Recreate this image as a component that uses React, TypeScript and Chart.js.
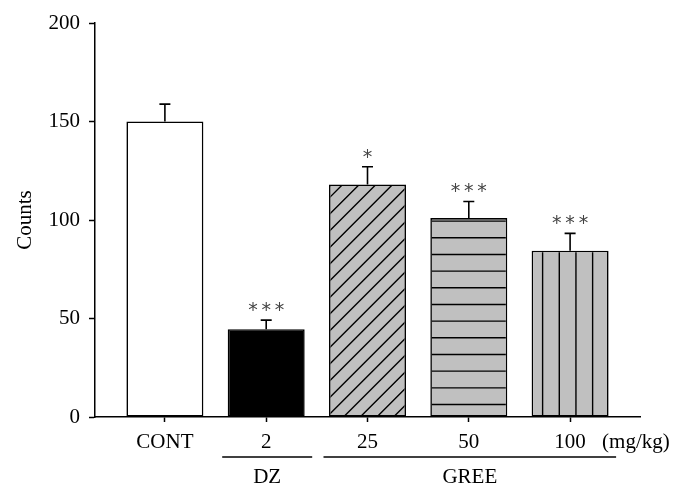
import React, { useEffect, useRef } from "react";
import { Chart, registerables } from "chart.js";

Chart.register(...registerables);

// ---- data ----
const categories = ["CONT", "2", "25", "50", "100"];
const means = [150, 44.6, 118, 101, 84.4];
const sems = [8.8, 4.6, 9, 8.4, 8.8];
const significance = ["", "***", "*", "***", "***"];
const fills = ["#ffffff", "#000000", "#c0c0c0", "#c0c0c0", "#c0c0c0"];
const hatches = ["none", "none", "diag", "horiz", "vert"];
const groupNames = ["DZ", "GREE"];
const groupFirst = [1, 2];
const groupLast = [1, 4];
const unitLabel = "(mg/kg)";
const yTicks = [0, 50, 100, 150, 200];

const SERIF = '"Liberation Serif", "Times New Roman", serif';

const overlay = {
  id: "overlay",
  afterDatasetsDraw(chart: any) {
    const ctx = chart.ctx;
    const yScale = chart.scales.y;
    const meta = chart.getDatasetMeta(0);
    meta.data.forEach((bar: any, i: number) => {
      const p = bar.getProps(["x", "y", "base", "width"], true);
      const cx = p.x;
      const top = p.y;
      const base = p.base;
      const w = p.width;
      const left = cx - w / 2;
      const right = cx + w / 2;
      const step = 16.67;
      const kind = hatches[i];
      if (kind !== "none") {
        ctx.save();
        ctx.beginPath();
        ctx.rect(left + 1.5, top + 1.5, w - 3, base - top - 1.5);
        ctx.clip();
        ctx.strokeStyle = "#000";
        ctx.lineWidth = 1.4;
        ctx.beginPath();
        const h = base - top;
        if (kind === "horiz") {
          for (let yy = base - 12; yy > top; yy -= step) {
            ctx.moveTo(left, yy);
            ctx.lineTo(right, yy);
          }
        } else if (kind === "vert") {
          for (let xx = left + 11; xx < right; xx += step) {
            ctx.moveTo(xx, top);
            ctx.lineTo(xx, base);
          }
        } else if (kind === "diag") {
          let s = left + 15 - step * Math.ceil(h / step + 1);
          for (; s < right; s += step) {
            ctx.moveTo(s, base);
            ctx.lineTo(s + h, top);
          }
        }
        ctx.stroke();
        ctx.restore();
      }
      // error bar (upper only)
      const eTop = yScale.getPixelForValue(means[i] + sems[i]);
      ctx.save();
      ctx.strokeStyle = "#000";
      ctx.lineWidth = 1.6;
      ctx.beginPath();
      ctx.moveTo(cx, top);
      ctx.lineTo(cx, eTop);
      ctx.moveTo(cx - 5.5, eTop);
      ctx.lineTo(cx + 5.5, eTop);
      ctx.stroke();
      // significance stars
      const n = significance[i].length;
      ctx.fillStyle = "#444";
      ctx.font = '19px "DejaVu Sans", sans-serif';
      ctx.textAlign = "center";
      ctx.textBaseline = "alphabetic";
      for (let j = 0; j < n; j++) {
        const sx = cx + (j - (n - 1) / 2) * 13.3;
        ctx.fillText("*", sx, eTop - 14 + 10);
      }
      ctx.restore();
    });
  },
  afterDraw(chart: any) {
    const ctx = chart.ctx;
    const xScale = chart.scales.x;
    ctx.save();
    ctx.strokeStyle = "#000";
    ctx.fillStyle = "#000";
    ctx.lineWidth = 1.5;
    ctx.font = "21px " + SERIF;
    ctx.textAlign = "center";
    ctx.textBaseline = "alphabetic";
    groupNames.forEach((name, g) => {
      const x1 = xScale.getPixelForValue(groupFirst[g]) - 44;
      const x2 = xScale.getPixelForValue(groupLast[g]) + 46;
      ctx.beginPath();
      ctx.moveTo(x1, 457);
      ctx.lineTo(x2, 457);
      ctx.stroke();
      ctx.fillText(name, (x1 + x2) / 2, 483);
    });
    ctx.textAlign = "left";
    ctx.fillText(unitLabel, xScale.getPixelForValue(categories.length - 1) + 32, 448);
    ctx.restore();
  },
};

export default function App() {
  const ref = useRef<HTMLCanvasElement>(null);
  useEffect(() => {
    document.body.style.margin = "0";
    const canvas = ref.current;
    if (!canvas) return;
    const chart = new Chart(canvas, {
      type: "bar",
      data: {
        datasets: [
          {
            data: categories.map((_, i) => ({ x: i, y: means[i] })) as any,
            backgroundColor: fills,
            borderColor: "#000",
            borderWidth: 1.6,
            borderSkipped: false,
            barPercentage: 0.76,
            categoryPercentage: 1,
          },
        ],
      },
      options: {
        animation: false,
        responsive: false,
        devicePixelRatio: 1,
        layout: { padding: { top: 23, right: 43, left: 0, bottom: 0 } },
        plugins: { legend: { display: false }, tooltip: { enabled: false } },
        scales: {
          x: {
            type: "linear",
            offset: false,
            min: -0.69,
            max: 4.69,
            afterBuildTicks: (scale: any) => {
              scale.ticks = categories.map((_, i) => ({ value: i }));
            },
            afterFit: (scale: any) => {
              scale.height = 79;
            },
            grid: {
              offset: false,
              drawOnChartArea: false,
              drawTicks: true,
              tickLength: 5,
              tickColor: "#000",
              tickWidth: 1.5,
            },
            border: { color: "#000", width: 1.5 },
            ticks: {
              autoSkip: false,
              maxRotation: 0,
              padding: 8,
              color: "#000",
              font: { family: SERIF, size: 21 },
              callback: (v: any) => categories[v] ?? "",
            },
          },
          y: {
            min: 0,
            max: 200,
            afterBuildTicks: (scale: any) => {
              scale.ticks = yTicks.map((v) => ({ value: v }));
            },
            afterFit: (scale: any) => {
              scale.width = 95;
            },
            grid: {
              drawOnChartArea: false,
              drawTicks: true,
              tickLength: 6,
              tickColor: "#000",
              tickWidth: 1.5,
            },
            border: { color: "#000", width: 1.5 },
            ticks: {
              padding: 9,
              color: "#000",
              font: { family: SERIF, size: 21 },
            },
            title: {
              display: true,
              text: "Counts",
              color: "#000",
              font: { family: SERIF, size: 21 },
              padding: { top: 13, bottom: 0 },
            },
          },
        },
      },
      plugins: [overlay],
    });
    return () => chart.destroy();
  }, []);
  return (
    <div style={{ width: 683, height: 496 }}>
      <canvas ref={ref} width={683} height={496} />
    </div>
  );
}
